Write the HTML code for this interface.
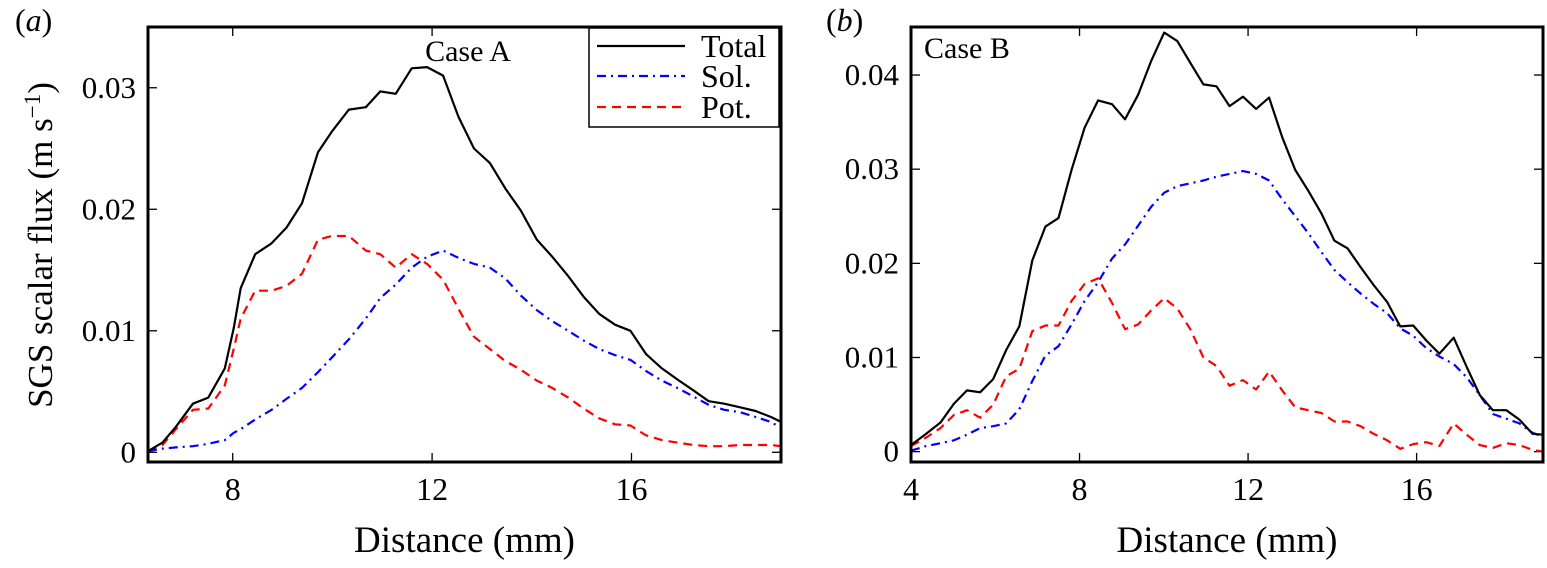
<!DOCTYPE html>
<html><head><meta charset="utf-8"><style>
body{margin:0;background:#fff}
svg, svg text, svg tspan{font-family:"Liberation Serif","DejaVu Serif",serif !important;fill:#000}
</style></head><body>
<svg id="fig" width="1547" height="563" viewBox="0 0 1547 563" xmlns="http://www.w3.org/2000/svg"></svg>
<script>
const xA=[6.3,6.59,6.86,7.2,7.51,7.84,8.02,8.16,8.45,8.78,9.08,9.39,9.71,9.99,10.33,10.67,10.96,11.27,11.59,11.9,12.22,12.53,12.84,13.16,13.47,13.78,14.1,14.41,14.73,15.04,15.35,15.67,15.98,16.29,16.61,16.92,17.24,17.55,17.86,18.18,18.49,18.8,19.0];
const totalA=[0.0001,0.0008,0.0021,0.0040,0.0045,0.0069,0.0102,0.0135,0.0163,0.0172,0.0185,0.0205,0.0247,0.0264,0.0282,0.0284,0.0297,0.0295,0.0316,0.0317,0.0310,0.0276,0.0250,0.0238,0.0217,0.0199,0.0175,0.0161,0.0145,0.0128,0.0114,0.0105,0.0100,0.0081,0.0069,0.0060,0.0051,0.0042,0.0040,0.0037,0.0034,0.0029,0.0025];
const solA=[0.0001,0.0003,0.0004,0.0005,0.0007,0.0010,0.0016,0.0019,0.0027,0.0035,0.0044,0.0053,0.0066,0.0078,0.0093,0.0110,0.0127,0.0138,0.0152,0.0161,0.0166,0.0160,0.0155,0.0152,0.0143,0.0129,0.0117,0.0108,0.0100,0.0092,0.0085,0.0080,0.0076,0.0067,0.0059,0.0053,0.0046,0.0039,0.0035,0.0033,0.0029,0.0025,0.0020];
const potA=[0.0001,0.0006,0.0019,0.0035,0.0036,0.0055,0.0085,0.0110,0.0133,0.0133,0.0137,0.0147,0.0175,0.0178,0.0178,0.0166,0.0163,0.0152,0.0163,0.0155,0.0142,0.0118,0.0095,0.0085,0.0075,0.0068,0.0059,0.0053,0.0045,0.0036,0.0028,0.0023,0.0022,0.0014,0.0010,0.0008,0.0006,0.0005,0.0005,0.0006,0.0006,0.0006,0.0005];
const xB=[4.0,4.36,4.7,5.02,5.33,5.64,5.95,6.26,6.57,6.88,7.19,7.5,7.81,8.12,8.44,8.77,9.08,9.39,9.7,10.01,10.32,10.63,10.94,11.25,11.56,11.88,12.19,12.5,12.81,13.12,13.43,13.74,14.05,14.36,14.67,14.98,15.3,15.61,15.92,16.23,16.54,16.88,17.19,17.5,17.81,18.13,18.44,18.75,19.0];
const totalB=[0.0007,0.0019,0.0031,0.0051,0.0065,0.0063,0.0077,0.0108,0.0133,0.0203,0.0239,0.0248,0.0299,0.0344,0.0373,0.0369,0.0353,0.0379,0.0415,0.0445,0.0436,0.0413,0.0390,0.0388,0.0367,0.0377,0.0364,0.0376,0.0334,0.0299,0.0277,0.0253,0.0224,0.0216,0.0196,0.0177,0.0159,0.0133,0.0134,0.0118,0.0104,0.0121,0.0090,0.0060,0.0044,0.0044,0.0034,0.0019,0.0018];
const solB=[0.0001,0.0006,0.0009,0.0012,0.0018,0.0025,0.0027,0.0030,0.0045,0.0075,0.0102,0.0112,0.0135,0.0160,0.0180,0.0205,0.0220,0.0240,0.0260,0.0275,0.0282,0.0285,0.0288,0.0292,0.0295,0.0298,0.0295,0.0288,0.0268,0.0250,0.0232,0.0212,0.0193,0.0180,0.0168,0.0157,0.0147,0.0131,0.0123,0.0110,0.0101,0.0093,0.0079,0.0060,0.0040,0.0035,0.0030,0.0020,0.0016];
const potB=[0.0006,0.0015,0.0025,0.0039,0.0044,0.0036,0.0050,0.0080,0.0088,0.0128,0.0134,0.0134,0.0160,0.0178,0.0184,0.0158,0.0130,0.0135,0.0150,0.0163,0.0152,0.0130,0.0100,0.0091,0.0070,0.0076,0.0066,0.0085,0.0065,0.0047,0.0044,0.0041,0.0032,0.0032,0.0027,0.0019,0.0012,0.0003,0.0008,0.0010,0.0006,0.0030,0.0018,0.0007,0.0004,0.0009,0.0007,0.0002,0.0000];
const xTicksA=[8,12,16], xTickLabelsA=["8","12","16"];
const yTicksA=[0,0.01,0.02,0.03], yTickLabelsA=["0","0.01","0.02","0.03"];
const xTicksB=[4,8,12,16], xTickLabelsB=["4","8","12","16"];
const yTicksB=[0,0.01,0.02,0.03,0.04], yTickLabelsB=["0","0.01","0.02","0.03","0.04"];

const NS="http://www.w3.org/2000/svg", svg=document.getElementById('fig');
const FSTYLE="font-family:'Liberation Serif','DejaVu Serif',serif";
function mk(tag,attrs,parent,text){const e=document.createElementNS(NS,tag);for(const k in attrs)e.setAttribute(k,attrs[k]);if(tag==='text'||tag==='tspan')e.setAttribute('style',FSTYLE);if(text!==undefined)e.textContent=text;(parent||svg).appendChild(e);return e;}

function panel(P){
  const g=mk('g',{});
  
  
  const sx=v=>P.L+(v-P.x0)/(P.x1-P.x0)*(P.R-P.L);
  const sy=v=>P.B-(v-P.y0)/(P.y1-P.y0)*(P.B-P.T);
  const clipId=P.name+'-clip';
  const cp=mk('clipPath',{id:clipId},g);mk('rect',{x:P.L,y:P.T,width:P.R-P.L,height:P.B-P.T},cp);
  P.xt.forEach((t,i)=>{
    const x=sx(t);
    const tk=mk('line',{x1:x,x2:x,y1:P.B,y2:P.B-9,stroke:'#000','stroke-width':1.3},g);
    
    
    const tk2=mk('line',{x1:x,x2:x,y1:P.T,y2:P.T+9,stroke:'#000','stroke-width':1.3},g);
    
    
    const lb=mk('text',{x:x,y:P.B+38,'font-size':32,'text-anchor':'middle'},g,P.xl[i]);
    
    
  });
  P.yt.forEach((t,i)=>{
    const y=sy(t);
    const tk=mk('line',{x1:P.L,x2:P.L+9,y1:y,y2:y,stroke:'#000','stroke-width':1.3},g);
    
    
    const tk2=mk('line',{x1:P.R,x2:P.R-9,y1:y,y2:y,stroke:'#000','stroke-width':1.3},g);
    
    
    const lb=mk('text',{x:P.L-12,y:y+10,'font-size':31,'text-anchor':'end'},g,P.yl[i]);
    
    
  });
  const series=[[P.pot,'#ff0000','9,6','pot-line'],[P.sol,'#0000ff','9,5,2,5','sol-line'],[P.tot,'#000','', 'total-line']];
  series.forEach(s=>{
    const d=s[0].map((v,i)=>(i?'L':'M')+sx(P.x[i]).toFixed(1)+','+sy(v).toFixed(1)).join(' ');
    const p=mk('path',{d:d,fill:'none',stroke:s[1],'stroke-width':2.2,'stroke-dasharray':s[2]||'none','clip-path':'url(#'+clipId+')','stroke-linejoin':'round'},g);
    
    
  });
  const box=mk('rect',{x:P.L,y:P.T,width:P.R-P.L,height:P.B-P.T,fill:'none',stroke:'#000','stroke-width':3},g);
  
  
  const xl=mk('text',{x:(P.L+P.R)/2,y:552,'font-size':37,'text-anchor':'middle'},g,'Distance (mm)');
  
  
  const pl=mk('text',{x:P.L-133+P.pdx,y:31,'font-size':32},g);
  
  
  mk('tspan',{},pl,'(');
  mk('tspan',{'font-style':'italic'},pl,P.letter);
  mk('tspan',{},pl,')');
  const ct=mk('text',{x:P.cx,y:P.cy,'font-size':30,'text-anchor':P.ca},g,P.caseText);
  
  
  return {g,sx,sy};
}
panel({name:'panel-a',L:148,R:781,T:27,B:462,x0:6.3,x1:19,y0:-0.0008,y1:0.035,x:xA,tot:totalA,sol:solA,pot:potA,xt:xTicksA,xl:xTickLabelsA,yt:yTicksA,yl:yTickLabelsA,letter:'a',pdx:0,caseText:'Case A',cx:468,cy:61,ca:'middle'});
panel({name:'panel-b',L:911,R:1543,T:27,B:462,x0:4,x1:19,y0:-0.0011,y1:0.0451,x:xB,tot:totalB,sol:solB,pot:potB,xt:xTicksB,xl:xTickLabelsB,yt:yTicksB,yl:yTickLabelsB,letter:'b',pdx:48,caseText:'Case B',cx:924,cy:58,ca:'start'});

const yt=mk('text',{x:0,y:0,'font-size':35,'text-anchor':'middle',transform:'translate(52,245) rotate(-90)'});


mk('tspan',{},yt,'SGS scalar flux (m s');
mk('tspan',{dy:-12,'font-size':23},yt,'−1');
mk('tspan',{dy:12},yt,')');

const lg=mk('g',{});


mk('rect',{x:589,y:28,width:190,height:99,fill:'#fff',stroke:'#000','stroke-width':1.5},lg);
[['Total','#000','none',46],['Sol.','#0000ff','9,5,2,5',76],['Pot.','#ff0000','9,6',107]].forEach(e=>{
  const eg=mk('g',{},lg);
  
  
  mk('line',{x1:597,x2:685,y1:e[3],y2:e[3],stroke:e[1],'stroke-width':2.2,'stroke-dasharray':e[2]},eg);
  mk('text',{x:701,y:e[3]+11,'font-size':32},eg,e[0]);
});
</script>
</body></html>
